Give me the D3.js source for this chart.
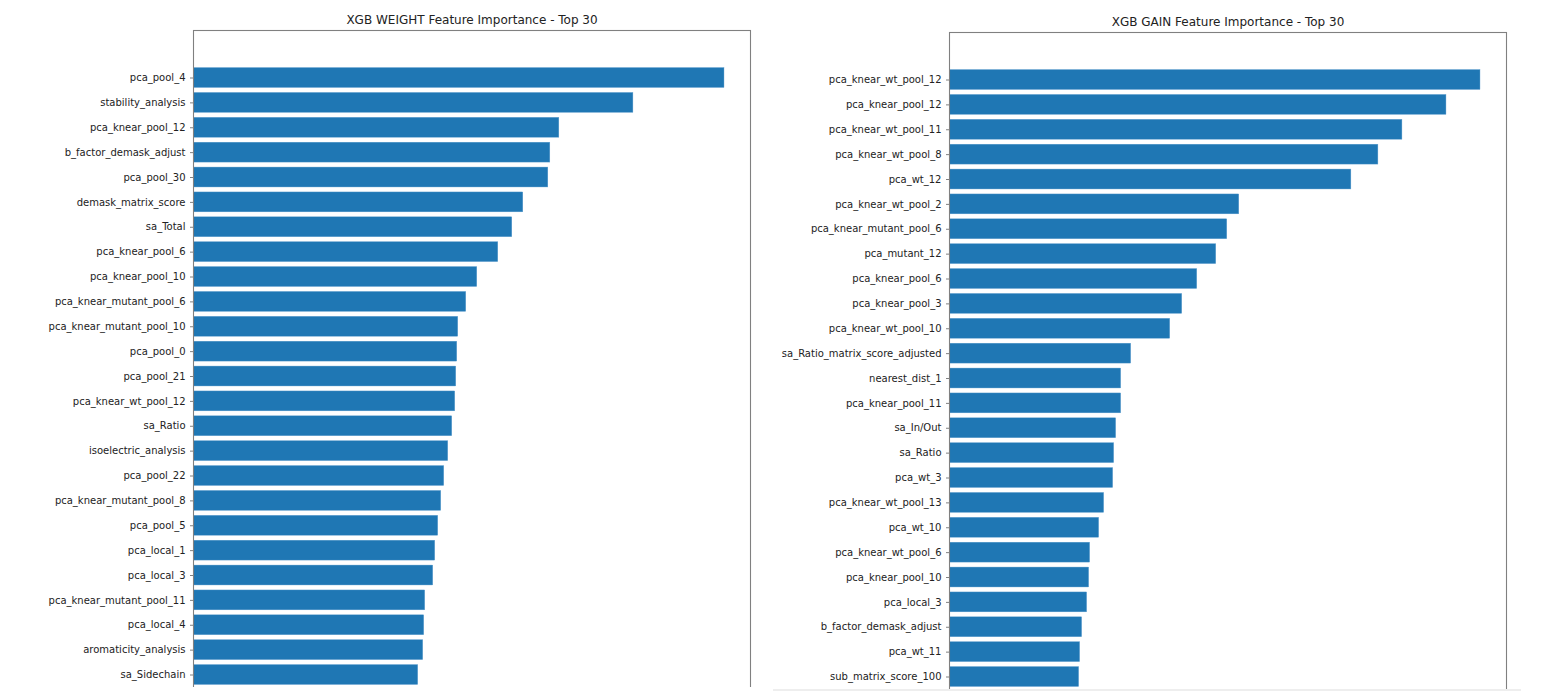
<!DOCTYPE html>
<html>
<head>
<meta charset="utf-8">
<script src="https://cdn.jsdelivr.net/npm/d3@7/dist/d3.min.js"></script>
<style>
  html, body { margin: 0; padding: 0; background: #fff; }
  svg { display: block; }
  text { font-family: "DejaVu Sans", sans-serif; fill: #222; }
</style>
</head>
<body>
<svg id="chart" width="1541" height="697"></svg>
<script>
// ---- Data (top of the visible list; the lowest 5 of the top 30 fall below the visible frame) ----
const TOP_N = 30;

const weightTitle = "XGB WEIGHT Feature Importance - Top 30";
const weightFeatures = [
  "pca_pool_4", "stability_analysis", "pca_knear_pool_12", "b_factor_demask_adjust",
  "pca_pool_30", "demask_matrix_score", "sa_Total", "pca_knear_pool_6",
  "pca_knear_pool_10", "pca_knear_mutant_pool_6", "pca_knear_mutant_pool_10", "pca_pool_0",
  "pca_pool_21", "pca_knear_wt_pool_12", "sa_Ratio", "isoelectric_analysis",
  "pca_pool_22", "pca_knear_mutant_pool_8", "pca_pool_5", "pca_local_1",
  "pca_local_3", "pca_knear_mutant_pool_11", "pca_local_4", "aromaticity_analysis",
  "sa_Sidechain"
];
const weightValues = [
  530, 439, 365, 356, 354, 329, 318, 304, 283, 272, 264, 263, 262, 261, 258, 254,
  250, 247, 244, 241, 239, 231, 230, 229, 224
];

const gainTitle = "XGB GAIN Feature Importance - Top 30";
const gainFeatures = [
  "pca_knear_wt_pool_12", "pca_knear_pool_12", "pca_knear_wt_pool_11", "pca_knear_wt_pool_8",
  "pca_wt_12", "pca_knear_wt_pool_2", "pca_knear_mutant_pool_6", "pca_mutant_12",
  "pca_knear_pool_6", "pca_knear_pool_3", "pca_knear_wt_pool_10", "sa_Ratio_matrix_score_adjusted",
  "nearest_dist_1", "pca_knear_pool_11", "sa_In/Out", "sa_Ratio",
  "pca_wt_3", "pca_knear_wt_pool_13", "pca_wt_10", "pca_knear_wt_pool_6",
  "pca_knear_pool_10", "pca_local_3", "b_factor_demask_adjust", "pca_wt_11",
  "sub_matrix_score_100"
];
const gainValues = [
  53.0, 49.6, 45.2, 42.8, 40.1, 28.9, 27.7, 26.6, 24.7, 23.2, 22.0, 18.1, 17.1, 17.1,
  16.6, 16.4, 16.3, 15.4, 14.9, 14.0, 13.9, 13.7, 13.2, 13.0, 12.9
];

// ---- Drawing ----
const svg = d3.select("#chart");
const BAR_COLOR = "#1f77b4";
const SPINE = "#808080";
const STEP = 24.875;          // pixels per category
const MARGIN = 0.05 * (TOP_N - 1 + 0.8); // matplotlib default 5% margin

function drawPanel(cfg) {
  const { id, features, values, title, left, right, top, clipBottom } = cfg;
  const lo = -0.4 - MARGIN, hi = TOP_N - 1 + 0.4 + MARGIN;
  const bottom = top + (hi - lo) * STEP;

  const x = d3.scaleLinear()
    .domain([0, d3.max(values) * 1.05])
    .range([left, right]);
  const y = d3.scaleLinear()
    .domain([lo, hi])
    .range([top, bottom]);

  svg.append("clipPath").attr("id", id)
    .append("rect").attr("x", 0).attr("y", 0)
    .attr("width", 1541).attr("height", clipBottom);

  const g = svg.append("g").attr("clip-path", `url(#${id})`);

  const barH = y(0.4) - y(-0.4);
  g.append("g").selectAll("rect")
    .data(values)
    .join("rect")
    .attr("x", x(0))
    .attr("y", (d, i) => y(i - 0.4))
    .attr("width", d => x(d) - x(0))
    .attr("height", barH)
    .attr("fill", BAR_COLOR)
    .attr("stroke", "#5f9fcf")
    .attr("stroke-width", 0.4);

  const yAxis = d3.axisLeft(y)
    .tickValues(d3.range(features.length))
    .tickFormat(i => features[i])
    .tickSize(3.5)
    .tickPadding(4.5);

  const ax = g.append("g").attr("transform", `translate(${left},0)`).call(yAxis);
  ax.select(".domain").remove();
  ax.selectAll(".tick line").attr("stroke", SPINE).attr("stroke-width", 1);
  ax.selectAll(".tick text")
    .style("font-family", "'DejaVu Sans', sans-serif")
    .style("font-size", "10px")
    .attr("fill", "#222");

  // spines (frame)
  g.append("rect")
    .attr("x", left).attr("y", top)
    .attr("width", right - left).attr("height", bottom - top)
    .attr("fill", "none")
    .attr("stroke", SPINE)
    .attr("stroke-width", 1.1);

  svg.append("text")
    .attr("x", (left + right) / 2)
    .attr("y", top - 6.5)
    .attr("text-anchor", "middle")
    .style("font-size", "12px")
    .text(title);
}

drawPanel({
  id: "clipL", features: weightFeatures, values: weightValues, title: weightTitle,
  left: 193.5, right: 750.5, top: 30.5, clipBottom: 687
});
drawPanel({
  id: "clipR", features: gainFeatures, values: gainValues, title: gainTitle,
  left: 949.5, right: 1506.5, top: 32.5, clipBottom: 689
});

// light separator at the bottom edge of the right figure
svg.append("line")
  .attr("x1", 773).attr("x2", 1521)
  .attr("y1", 690).attr("y2", 690)
  .attr("stroke", "#e8e8e8")
  .attr("stroke-width", 1.5);
</script>
</body>
</html>
